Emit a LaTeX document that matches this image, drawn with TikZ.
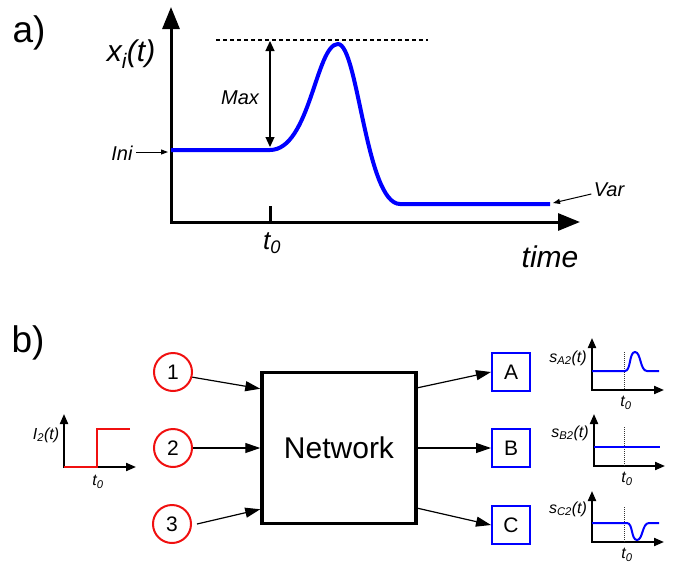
\documentclass[tikz,border=0pt]{standalone}
\usepackage{fontspec}
\setmainfont{Liberation Sans}
\usetikzlibrary{arrows.meta,calc}
\definecolor{ink}{HTML}{000000}
\definecolor{cblue}{HTML}{0000FF}
\definecolor{cred}{HTML}{F01010}
\newcommand{\fs}[1]{\fontsize{#1}{#1}\selectfont}
\tikzset{
  every picture/.style={line width=1pt,draw=ink},
  panel/.style={inner sep=0pt,font=\fs{37}},
  lab/.style={inner sep=0pt,font=\fs{20}\itshape},
  biglab/.style={inner sep=0pt,font=\fs{30}\itshape},
  minilab/.style={inner sep=0pt,font=\fs{16}\itshape},
  axis/.style={line width=3pt,line join=miter,
    {Triangle[length=22pt,width=17pt]}-{Triangle[length=22pt,width=17pt]}},
  miniaxis/.style={line width=2pt,line join=miter,
    {Triangle[length=10pt,width=8pt]}-{Triangle[length=10pt,width=8pt]}},
  sig/.style={draw=cblue,line width=4pt},
  minisig/.style={draw=cblue,line width=2pt},
  pointer/.style={line width=1pt,-{Triangle[length=7pt,width=5pt]}},
  dbl/.style={line width=1.2pt,{Triangle[length=10pt,width=9pt]}-{Triangle[length=10pt,width=9pt]}},
  arr/.style={line width=1.2pt,-{Triangle[length=15pt,width=10pt]}},
  inp/.style={circle,draw=cred,line width=2pt,minimum size=38pt,inner sep=0pt,font=\fs{21}},
  outp/.style={rectangle,draw=cblue,line width=2pt,minimum size=38pt,inner sep=0pt,font=\fs{21}},
  net/.style={rectangle,draw=ink,line width=3.5pt,minimum width=154pt,minimum height=151pt,font=\fs{30}},
  tzero/.style={densely dotted,line width=1pt,draw=ink!80},
}

\begin{document}
\begin{tikzpicture}[x=1pt,y=-1pt]
  \useasboundingbox (0,0) rectangle (678,563);
  % a) time course
  \node[panel] (pa) at (29,33) {a)};
  \coordinate (o) at (171,222);
  \coordinate (ytop) at (171,7);
  \coordinate (xend) at (580,222);
  \draw[axis] (ytop) -- (o) -- (xend);
  \coordinate (t0) at (270,222);
  \draw[line width=3pt] (t0) -- ++(0,-16);
  \node[lab,font=\fs{26}\itshape] (t0lab) at (272,243) {t\textsubscript{0}};
  \node[biglab] (tlab) at (550,257) {time};
  \node[biglab] (xlab) at (131,54) {x\textsubscript{i}(t)};
  \coordinate (dl) at (216,40);
  \coordinate (dr) at (428,40);
  \draw[dash pattern=on 4pt off 3pt,line width=1.3pt] (dl) -- (dr);
  \coordinate (maxtop) at (270,41);
  \coordinate (maxbot) at (270,147);
  \draw[dbl] (maxtop) -- (maxbot);
  \node[lab] (maxlab) at (240,98) {Max};
  \draw[sig] (o |- 0,150) -- (270,150) .. controls (310,150) and (316,44) .. (338,44)
    .. controls (358,44) and (366,204) .. (400,204) -- (550,204);
  \node[lab] (ini) at (122,153) {Ini};
  \coordinate (inip) at (168,152);
  \draw[pointer] (ini.east) ++(3,-1) -- (inip);
  \node[lab] (var) at (609,190) {Var};
  \coordinate (varp) at (553,203);
  \draw[pointer] (var.west) ++(-2,4) -- (varp);

  % b) network
  \node[panel] (pb) at (28,343) {b)};
  \node[inp] (c1) at (173,372) {1};
  \node[inp] (c2) at (173,448) {2};
  \node[inp] (c3) at (172,524) {3};
  \node[net] (net) at (339,448) {Network};
  \node[outp] (oA) at (511,372) {A};
  \node[outp] (oB) at (511,448) {B};
  \node[outp] (oC) at (511,525) {C};
  \draw[arr] (c1.-15) -- ([yshift=-18pt]net.north west);
  \draw[arr] (c2) -- (net);
  \draw[arr] ([xshift=5pt]c3.east) -- ([yshift=16pt]net.south west);
  \draw[arr] ([yshift=-17pt]net.north east) -- (oA.west);
  \draw[arr] (net) -- (oB);
  \draw[arr] ([yshift=17pt]net.south east) -- (oC.west);

  % input I_2
  \coordinate (io) at (64,467);
  \draw[miniaxis] (64,414) -- (io) -- (136,467);
  \draw[draw=cred,line width=2pt] (io) -- (97,467) -- (97,429) -- (130,429);
  \node[minilab] (ilab) at (46,435) {I\textsubscript{2}(t)};
  \node[minilab] (it0) at (98,482) {t\textsubscript{0}};

  % output s_A2
  \coordinate (ao) at (592,390);
  \draw[miniaxis] (592,338) -- (ao) -- (664,390);
  \draw[tzero] (624,352) -- (624,390);
  \draw[minisig] (592,371) -- (625,371) .. controls (631,371) and (629,352) .. (635,352)
    .. controls (641,352) and (640,371) .. (647,371) -- (659,371);
  \node[minilab] (alab) at (568,358) {s\textsubscript{A2}(t)};
  \node[minilab] (at0) at (626,403) {t\textsubscript{0}};

  % output s_B2
  \coordinate (bo) at (594,466);
  \draw[miniaxis] (594,414) -- (bo) -- (665,466);
  \draw[tzero] (624,427) -- (624,466);
  \draw[minisig] (594,447) -- (660,447);
  \node[minilab] (blab) at (570,433) {s\textsubscript{B2}(t)};
  \node[minilab] (bt0) at (627,479) {t\textsubscript{0}};

  % output s_C2
  \coordinate (co) at (592,542);
  \draw[miniaxis] (592,491) -- (co) -- (664,542);
  \draw[tzero] (624,507) -- (624,542);
  \draw[minisig] (592,523) -- (627,523) .. controls (633,523) and (631,540) .. (637,540)
    .. controls (643,540) and (642,523) .. (649,523) -- (659,523);
  \node[minilab] (clab) at (568,509) {s\textsubscript{C2}(t)};
  \node[minilab] (ct0) at (627,555) {t\textsubscript{0}};
\end{tikzpicture}
\end{document}
